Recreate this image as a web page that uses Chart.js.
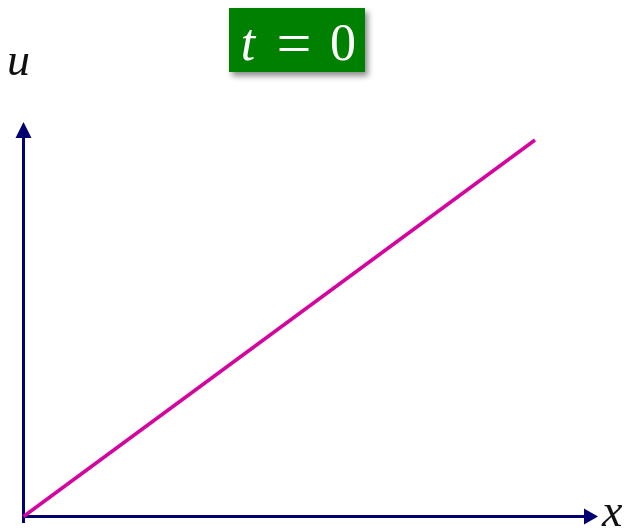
<!DOCTYPE html>
<html><head><meta charset="utf-8">
<script src="https://cdn.jsdelivr.net/npm/chart.js@4"></script>
<style>html,body{margin:0;padding:0;background:#fff;}#wrap{width:629px;height:528px;position:relative;}</style>
</head><body><div id="wrap"><canvas id="c" width="629" height="528"></canvas></div>
<script>
const xValues = [0, 1];
const uValues = [0, 1];
const titleText = "t = 0";
const xLabel = "x";
const yLabel = "u";

const AXIS = "#000070";
const LINE = "#D4049E";

const decor = {
  id: "decor",
  beforeDatasetsDraw(chart) {
    const ctx = chart.ctx, a = chart.chartArea;
    const ox = a.left, oy = a.bottom;
    ctx.save();
    ctx.strokeStyle = AXIS; ctx.fillStyle = AXIS; ctx.lineWidth = 3;
    // vertical axis
    ctx.beginPath(); ctx.moveTo(ox, oy + 6.5); ctx.lineTo(ox, a.top - 8); ctx.stroke();
    ctx.beginPath(); ctx.moveTo(ox, a.top - 18); ctx.lineTo(ox - 8, a.top - 2); ctx.lineTo(ox + 8, a.top - 2); ctx.closePath(); ctx.fill();
    // horizontal axis
    ctx.beginPath(); ctx.moveTo(ox - 1.5, oy); ctx.lineTo(a.right + 55, oy); ctx.stroke();
    ctx.beginPath(); ctx.moveTo(a.right + 63, oy); ctx.lineTo(a.right + 49, oy - 8); ctx.lineTo(a.right + 49, oy + 8); ctx.closePath(); ctx.fill();
    ctx.restore();
  },
  afterDraw(chart) {
    const ctx = chart.ctx, a = chart.chartArea;
    ctx.save();
    ctx.fillStyle = "#111";
    ctx.font = "italic 46px 'Liberation Serif', 'DejaVu Serif', serif";
    ctx.textBaseline = "alphabetic";
    ctx.textAlign = "left";
    ctx.fillText(yLabel, 7, 75);
    ctx.fillText(xLabel, a.right + 67, 526);
    // title box
    ctx.shadowColor = "rgba(0,0,0,0.45)";
    ctx.shadowBlur = 6; ctx.shadowOffsetX = 3; ctx.shadowOffsetY = 4;
    ctx.fillStyle = "#008000";
    ctx.fillRect(229, 8, 136, 64);
    ctx.shadowColor = "transparent";
    ctx.fillStyle = "#ffffff";
    ctx.textAlign = "center";
    const tokens = titleText.split(" ");
    const parts = [[tokens[0], "italic 52px", 248, 60], [tokens[1], "62px", 294, 64], [tokens[2], "52px", 343, 60]];
    parts.forEach(p => {
      ctx.font = p[1] + " 'Liberation Serif', 'DejaVu Serif', serif";
      ctx.fillText(p[0], p[2], p[3]);
    });
    ctx.restore();
  }
};

new Chart(document.getElementById("c"), {
  type: "line",
  data: {
    labels: xValues,
    datasets: [{
      data: xValues.map((x, i) => ({x: x, y: uValues[i]})),
      borderColor: LINE, borderWidth: 3.5, pointRadius: 0, tension: 0, clip: false
    }]
  },
  options: {
    responsive: false, animation: false, devicePixelRatio: 1,
    layout: {padding: {left: 23.5, right: 94, top: 140, bottom: 11.5}},
    plugins: {legend: {display: false}, tooltip: {enabled: false}, title: {display: false}},
    scales: {
      x: {type: "linear", min: 0, max: 1, display: false},
      y: {type: "linear", min: 0, max: 1, display: false}
    }
  },
  plugins: [decor]
});
</script></body></html>
